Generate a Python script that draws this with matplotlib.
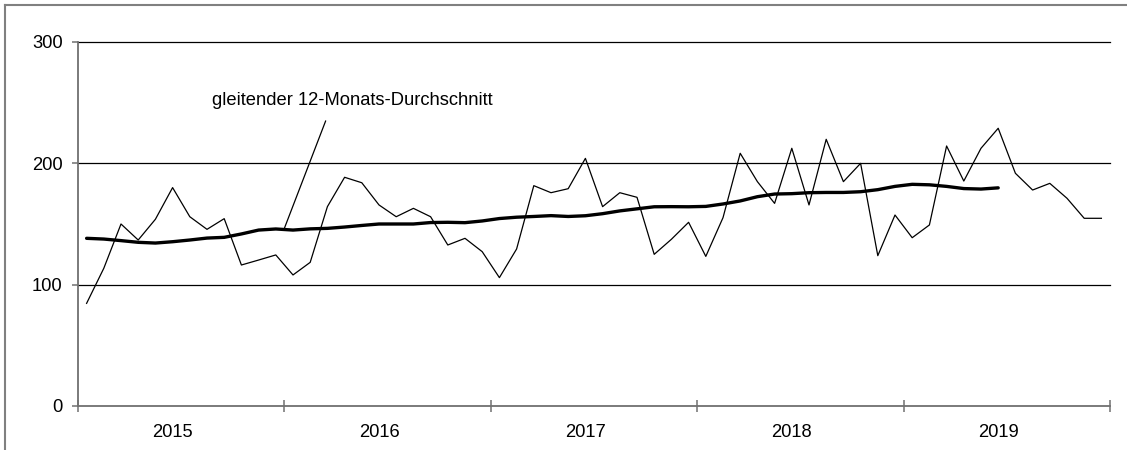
import numpy as np
import matplotlib
matplotlib.use("Agg")
import matplotlib.pyplot as plt
from matplotlib.lines import Line2D

plt.rcParams['font.family'] = ['Liberation Sans', 'DejaVu Sans']

# monthly values 2015-2019
years = ["2015", "2016", "2017", "2018", "2019"]
monthly = [84.6, 113.5, 150.0, 136.8, 153.9, 180.0, 156.0, 145.6, 154.4, 116.2, 120.3, 124.5,
           108.0, 118.4, 164.3, 188.5, 184.0, 165.7, 156.0, 162.9, 156.0, 132.7, 138.2, 127.2,
           105.8, 129.4, 181.6, 175.8, 179.1, 204.1, 164.3, 175.8, 172.0, 125.0, 137.4, 151.4,
           123.3, 155.2, 208.3, 184.9, 167.0, 212.4, 165.7, 219.8, 184.9, 200.0, 123.9, 157.4,
           138.7, 149.2, 214.3, 185.4, 212.4, 228.9, 191.8, 178.0, 183.5, 171.2, 154.7, 154.7]
# gleitender 12-Monats-Durchschnitt (bis Juni 2019)
moving_avg = [138.2, 137.6, 136.3, 134.9, 134.3, 135.4, 136.8, 138.4, 139.0, 141.8, 145.0, 145.9,
              145.0, 146.0, 146.4, 147.5, 148.8, 150.0, 150.0, 150.0, 151.2, 151.4, 151.1, 152.5,
              154.5, 155.6, 156.2, 156.9, 156.2, 156.8, 158.5, 160.8, 162.5, 164.2, 164.3, 164.2,
              164.5, 166.5, 169.0, 172.5, 174.7, 175.0, 175.8, 176.0, 176.0, 176.6, 178.3, 181.0,
              182.7, 182.3, 181.0, 179.2, 178.8, 179.8]
label = "gleitender 12-Monats-Durchschnitt"

x = np.arange(len(monthly)) + 0.5
x_ma = np.arange(len(moving_avg)) + 0.5

fig = plt.figure(figsize=(11.27, 4.5), dpi=100)
ax = fig.add_axes([78 / 1127, 44 / 450, 1032 / 1127, 364 / 450])

# outer frame (only left and top visible)
fig.add_artist(Line2D([5 / 1127, 5 / 1127], [-0.05, 1 - 5 / 450], color="#808080", lw=1.5))
fig.add_artist(Line2D([5 / 1127, 1.05], [1 - 5 / 450, 1 - 5 / 450], color="#808080", lw=1.5))

for v in [100, 200, 300]:
    ax.axhline(v, color="black", lw=0.9, clip_on=False, zorder=1)

ax.plot(x, monthly, color="black", lw=0.9, zorder=3)
ax.plot(x_ma, moving_avg, color="black", lw=2.4, solid_capstyle="round", zorder=4)

ax.annotate("", xy=(12.0, 146.5), xytext=(14.4, 235),
            arrowprops=dict(arrowstyle="-", color="black", lw=0.9, shrinkA=0, shrinkB=0))
ax.text(7.8, 252, label, fontsize=13.2, va="center", ha="left")

ax.set_xlim(0, 60)
ax.set_ylim(0, 300)
ax.set_yticks([0, 100, 200, 300])
ax.set_yticklabels(["0", "100", "200", "300"])
ax.set_xticks(np.arange(0, 61, 12))
ax.set_xticklabels([])
# year labels sit slightly left of mid-year in the original
ax.set_xticks(np.arange(5.5, 60, 12), minor=True)
ax.set_xticklabels(years, minor=True)

for s in ["top", "right"]:
    ax.spines[s].set_visible(False)
for s in ["left", "bottom"]:
    ax.spines[s].set_color("#707070")
    ax.spines[s].set_linewidth(1.3)

ax.tick_params(axis="y", direction="out", length=4, width=1.1, color="#707070",
               labelsize=13.2, pad=7)
ax.tick_params(axis="x", which="major", direction="inout", length=8, width=1.1, color="#707070")
ax.tick_params(axis="x", which="minor", length=0, labelsize=13.2, pad=13)

fig.savefig("out.png", dpi=100)
